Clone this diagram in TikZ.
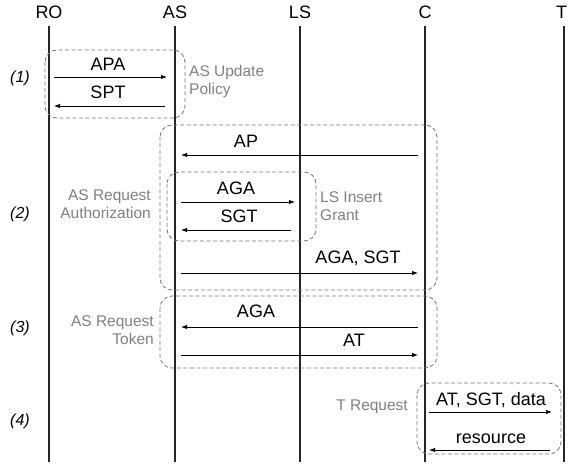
\documentclass[tikz,border=0pt]{standalone}
\usepackage{fontspec}
\setmainfont{Liberation Sans}
\usetikzlibrary{arrows.meta}
\tikzset{
  actor/.style={font=\fontsize{18}{20}\selectfont, anchor=base, inner sep=0pt},
  msg/.style={font=\fontsize{18}{20}\selectfont, anchor=base, inner sep=0pt},
  steplbl/.style={font=\fontsize{16}{18}\selectfont\itshape, anchor=base, inner sep=0pt},
  note/.style={font=\fontsize{15.5}{18.5}\selectfont, text=black!50, inner sep=0pt, align=left},
  lifeline/.style={draw=black!85, line width=1.2pt},
  call/.style={draw=black, line width=0.9pt, -{Latex[length=6pt,width=4.5pt]}},
  grp/.style={draw=black!55, dashed, line width=0.8pt, rounded corners=12pt, dash pattern=on 4pt off 2.5pt},
}
\begin{document}
\begin{tikzpicture}[x=1pt,y=-1pt]
\useasboundingbox (0,0) rectangle (568,465);
% actors
\node[actor] (ro) at (49,19) {RO};
\node[actor] (as) at (175,19) {AS};
\node[actor] (ls) at (300,19) {LS};
\node[actor] (c)  at (425,19) {C};
\node[actor] (t)  at (561.5,19) {T};
\coordinate (roT) at (49,26);  \coordinate (roB) at (49,462);
\coordinate (asT) at (175,26); \coordinate (asB) at (175,462);
\coordinate (lsT) at (300,26); \coordinate (lsB) at (300,462);
\coordinate (cT)  at (425,26); \coordinate (cB)  at (425,462);
\coordinate (tT)  at (564,26); \coordinate (tB)  at (564,462);
\draw[lifeline] (roT) -- (roB);
\draw[lifeline] (asT) -- (asB);
\draw[lifeline] (lsT) -- (lsB);
\draw[lifeline] (cT) -- (cB);
\draw[lifeline] (tT) -- (tB);
% step labels
\node[steplbl] (s1) at (20,83) {(1)};
\node[steplbl] (s2) at (20,219) {(2)};
\node[steplbl] (s3) at (20,332) {(3)};
\node[steplbl] (s4) at (20,425) {(4)};
% group boxes
\draw[grp] (45,50) rectangle (185,118);
\draw[grp] (160,125) rectangle (437,290);
\draw[grp] (167,172) rectangle (316,241);
\draw[grp] (160,296) rectangle (437,368);
\draw[grp] (417,383) rectangle (561,454);
% notes
\node[note, anchor=north west] (n1) at (189,65) {AS Update\\Policy};
\node[note, anchor=north west] (n2) at (320,191) {LS Insert\\Grant};
\node[note, anchor=north east, align=right] (n3) at (151,189) {AS Request\\Authorization};
\node[note, anchor=north east, align=right] (n4) at (154,315) {AS Request\\Token};
\node[note, anchor=base east] (n5) at (408,410) {T Request};
% (1)
\node[msg] (l1) at (108,71) {APA};
\coordinate (a1s) at (54,77);  \coordinate (a1e) at (167,77);
\draw[call] (a1s) -- (a1e);
\node[msg] (l2) at (108,99) {SPT};
\coordinate (a2s) at (165,106); \coordinate (a2e) at (54,106);
\draw[call] (a2s) -- (a2e);
% (2)
\node[msg] (l3) at (246,148) {AP};
\coordinate (a3s) at (418,155); \coordinate (a3e) at (181,155);
\draw[call] (a3s) -- (a3e);
\node[msg] (l4) at (236,195) {AGA};
\coordinate (a4s) at (181,202); \coordinate (a4e) at (295,202);
\draw[call] (a4s) -- (a4e);
\node[msg] (l5) at (239,223) {SGT};
\coordinate (a5s) at (291,230); \coordinate (a5e) at (181,230);
\draw[call] (a5s) -- (a5e);
\node[msg] (l6) at (358,264) {AGA, SGT};
\coordinate (a6s) at (181,273); \coordinate (a6e) at (418,273);
\draw[call] (a6s) -- (a6e);
% (3)
\node[msg] (l7) at (256,318) {AGA};
\coordinate (a7s) at (418,327); \coordinate (a7e) at (181,327);
\draw[call] (a7s) -- (a7e);
\node[msg] (l8) at (354,346) {AT};
\coordinate (a8s) at (181,355); \coordinate (a8e) at (418,355);
\draw[call] (a8s) -- (a8e);
% (4)
\node[msg] (l9) at (491,405) {AT, SGT, data};
\coordinate (a9s) at (429,412); \coordinate (a9e) at (552,412);
\draw[call] (a9s) -- (a9e);
\node[msg] (l10) at (491,443) {resource};
\coordinate (a10s) at (550,450); \coordinate (a10e) at (429,450);
\draw[call] (a10s) -- (a10e);
\end{tikzpicture}
\end{document}
